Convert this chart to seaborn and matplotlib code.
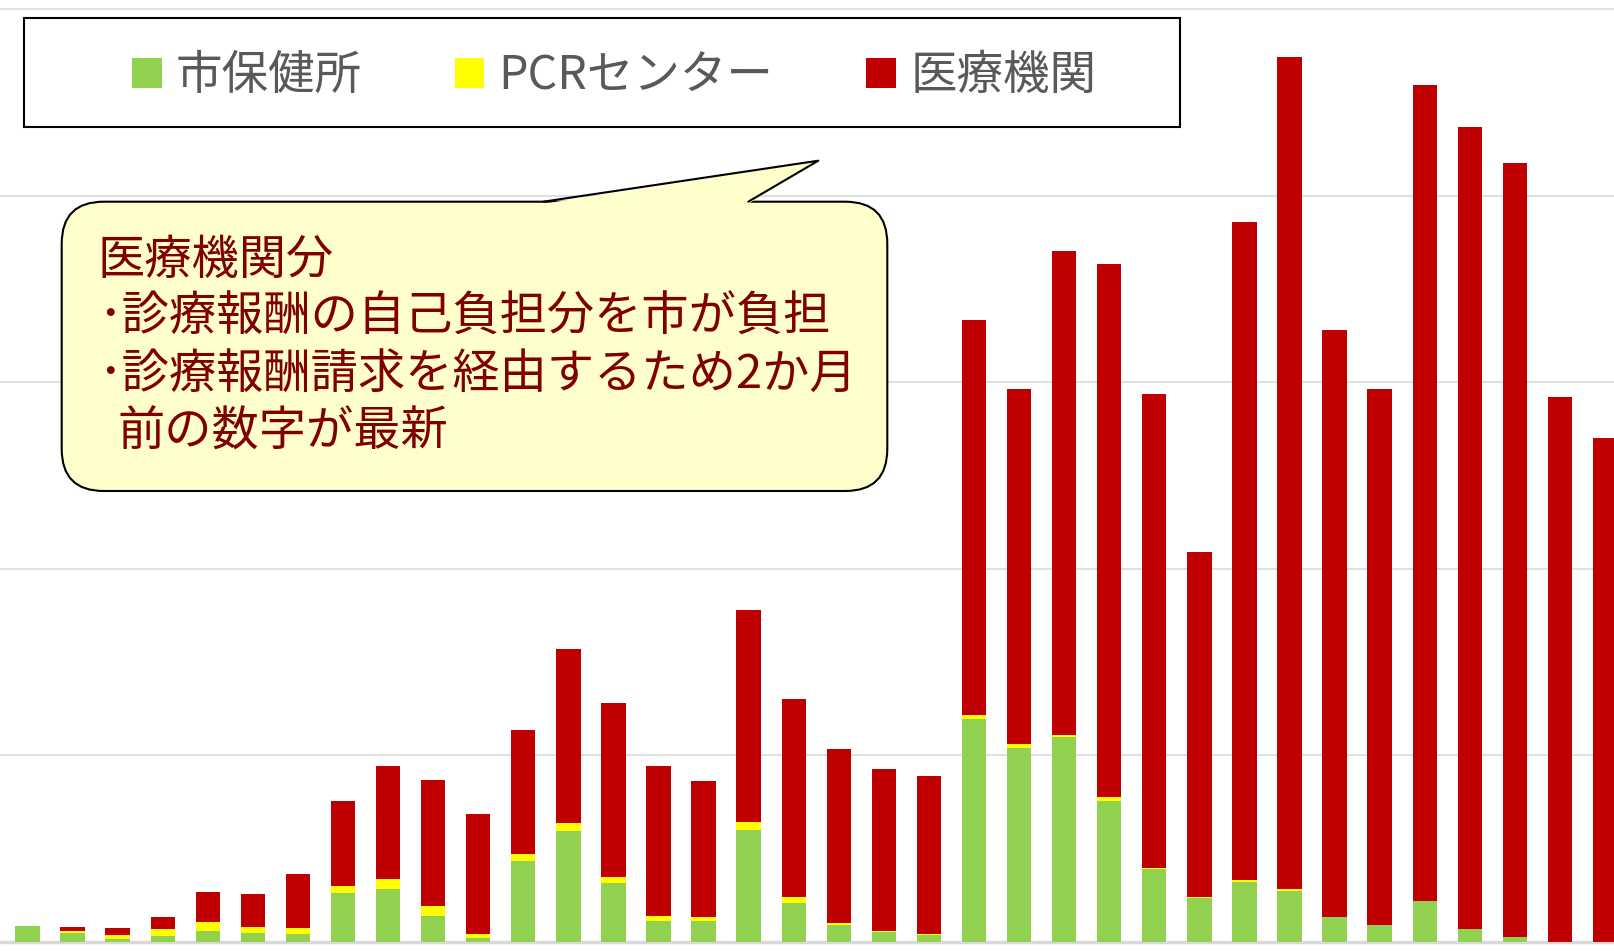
import matplotlib
matplotlib.use("Agg")
import matplotlib.pyplot as plt
import seaborn as sns
import pandas as pd
from matplotlib.patches import FancyBboxPatch, Polygon, Rectangle

sns.set_theme(style="white")
plt.rcParams["font.family"] = ["Noto Sans CJK JP", "DejaVu Sans"]

# 月ごとの検査件数（目盛り1本 = 100 として読み取り）
months = [f"{i + 1}" for i in range(36)]
hokenjo = [8.6, 4.8, 1.6, 3.1, 6.1, 4.8, 4.4, 26.1, 28.4, 14.1,
           2.0, 43.4, 59.5, 31.4, 11.1, 11.4, 60.0, 20.9, 9.1, 5.2,
           3.9, 119.3, 104.1, 110.0, 75.7, 39.1, 23.6, 32.3, 27.3, 13.4,
           9.3, 22.0, 7.1, 2.5, 0.0, 0.0]
pcr = [0.0, 1.1, 2.3, 3.7, 4.8, 3.4, 3.3, 3.9, 5.2, 5.0,
       2.3, 3.6, 4.4, 3.4, 2.7, 2.0, 4.4, 3.2, 1.1, 0.9,
       0.5, 2.3, 1.8, 0.9, 1.8, 0.5, 0.3, 0.9, 1.1, 0.0,
       0.0, 0.0, 0.0, 0.0, 0.0, 0.0]
iryo = [0.0, 2.1, 3.6, 6.4, 15.9, 17.4, 28.6, 45.7, 60.8, 67.6,
        64.2, 66.7, 92.9, 93.3, 80.6, 72.8, 113.3, 106.2, 93.1, 86.7,
        84.5, 211.7, 190.4, 259.4, 286.1, 254.0, 185.3, 352.5, 446.1, 314.4,
        287.0, 437.4, 429.5, 414.8, 291.9, 270.1]

df = pd.DataFrame({"month": months, "hokenjo": hokenjo, "pcr": pcr, "iryo": iryo})
df["pcr_top"] = df["hokenjo"] + df["pcr"]
df["total"] = df["pcr_top"] + df["iryo"]

fig = plt.figure(figsize=(16.14, 9.51), dpi=100)
ax = fig.add_axes([0, 0, 1, 1])

# 積み上げ：合計→PCRまで→保健所の順に重ねて描く
bar_kw = dict(width=0.54, saturation=1, linewidth=0, errorbar=None, ax=ax)
sns.barplot(data=df, x="month", y="total", color="#C00000", label="医療機関", **bar_kw)
sns.barplot(data=df, x="month", y="pcr_top", color="#FFFF00", label="PCRセンター", **bar_kw)
sns.barplot(data=df, x="month", y="hokenjo", color="#92D050", label="市保健所", **bar_kw)

handles, labels = ax.get_legend_handles_labels()
if ax.get_legend() is not None:
    ax.get_legend().remove()

ax.set_xlim(-0.61, 35.2)
ax.set_ylim(-4.8, 504.8)
ax.set_yticks(range(0, 501, 100))
ax.yaxis.grid(True, color="#D9D9D9", linewidth=1.2)
ax.set_axisbelow(True)
ax.axhline(0, color="#D9D9D9", linewidth=2.5, zorder=0.6)
ax.tick_params(length=0, labelleft=False, labelbottom=False)
ax.set_xlabel("")
ax.set_ylabel("")
for s in ax.spines.values():
    s.set_visible(False)

# 凡例と吹き出し用のピクセル座標レイヤー
ov = fig.add_axes([0, 0, 1, 1])
ov.set_xlim(0, 1614)
ov.set_ylim(951, 0)
ov.axis("off")

ov.add_patch(Rectangle((23.5, 18.3), 1156.5, 108.4, facecolor="white", edgecolor="black", linewidth=1.5))

order = [2, 1, 0]
ov.legend([handles[i] for i in order], [labels[i] for i in order],
          loc="center", bbox_to_anchor=(614 / 1614, 1 - 76 / 951), bbox_transform=fig.transFigure,
          ncol=3, frameon=False, prop={"family": ["Noto Sans CJK JP", "DejaVu Sans"], "size": 33.5},
          labelcolor="#595959", handlelength=0.64, handleheight=0.64, handletextpad=0.3,
          columnspacing=2.0, borderpad=0, borderaxespad=0)

# 吹き出し
ov.add_patch(FancyBboxPatch((61.7, 201.7), 825.6, 289.3, boxstyle="round,pad=0,rounding_size=42",
                            facecolor="#FFFFCC", edgecolor="black", linewidth=1.5))
ov.add_patch(Polygon([(543.3, 203.8), (818.3, 160.7), (748.3, 203.8)], closed=True,
                     facecolor="#FFFFCC", edgecolor="none"))
ov.plot([543.3, 818.3, 748.3], [201.7, 160.7, 201.7], color="black", linewidth=1.5)

note_color = "#800000"
ov.text(98, 274, "医療機関分", fontsize=34, color=note_color, va="baseline")
ov.text(98, 331, "･診療報酬の自己負担分を市が負担", fontsize=34, color=note_color, va="baseline")
ov.text(98, 389, "･診療報酬請求を経由するため2か月", fontsize=34, color=note_color, va="baseline")
ov.text(118, 446, "前の数字が最新", fontsize=34, color=note_color, va="baseline")

fig.savefig("out.png", dpi=100)
